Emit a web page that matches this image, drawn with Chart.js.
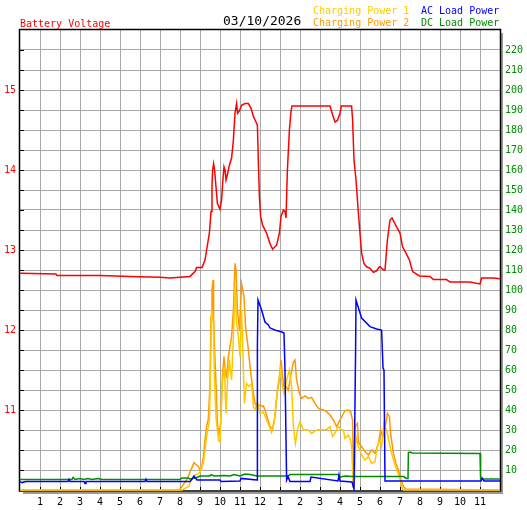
<!DOCTYPE html>
<html>
<head>
<meta charset="utf-8">
<script src="https://cdn.jsdelivr.net/npm/chart.js@4"></script>
<style>
  body { margin: 0; background: #fff; }
  #wrap { position: relative; width: 527px; height: 510px; }
  .lbl { position: absolute; font-family: "DejaVu Sans Mono", monospace; font-size: 10px; line-height: 12px; white-space: pre; }
</style>
</head>
<body>
<div id="wrap">
  <canvas id="chart" width="527" height="510"></canvas>
  <div class="lbl" style="left:20px;top:18px;color:#ff0000">Battery Voltage</div>
  <div class="lbl" style="left:223px;top:13px;font-size:13px;line-height:15px;color:#000">03/10/2026</div>
  <div class="lbl" style="left:313px;top:5px;color:#ffcc00">Charging Power 1</div>
  <div class="lbl" style="left:313px;top:17px;color:#ff9900">Charging Power 2</div>
  <div class="lbl" style="left:421px;top:5px;color:#0000ff">AC Load Power</div>
  <div class="lbl" style="left:421px;top:17px;color:#008c00">DC Load Power</div>
</div>
<script>
// hours of day (0-24) and readings

const hourTicks = [1,2,3,4,5,6,7,8,9,10,11,12,13,14,15,16,17,18,19,20,21,22,23];
const voltTicks = [11, 12, 13, 14, 15];
const powerTicks = [10,20,30,40,50,60,70,80,90,100,110,120,130,140,150,160,170,180,190,200,210,220];

const voltHours = [0, 1.8, 1.85, 4, 5.5, 7, 7.5, 8, 8.5, 8.75, 8.83, 9.1, 9.25, 9.33, 9.47, 9.55, 9.6, 9.63, 9.68, 9.73, 9.8, 9.87, 10, 10.08, 10.13, 10.2, 10.25, 10.3, 10.37, 10.47, 10.58, 10.67, 10.75, 10.83, 10.88, 10.97, 11.08, 11.25, 11.42, 11.55, 11.67, 11.8, 11.87, 11.92, 11.97, 12.03, 12.13, 12.33, 12.5, 12.63, 12.83, 12.97, 13.05, 13.17, 13.25, 13.3, 13.37, 13.47, 13.55, 13.6, 15.5, 15.63, 15.75, 15.87, 16, 16.07, 16.58, 16.63, 16.7, 16.8, 16.92, 17, 17.08, 17.2, 17.33, 17.5, 17.67, 17.83, 17.97, 18, 18.17, 18.25, 18.37, 18.5, 18.6, 18.83, 19, 19.13, 19.3, 19.47, 19.63, 19.97, 20.5, 20.67, 21.33, 21.5, 22.5, 23, 23.08, 23.67, 24];
const voltValues = [12.71, 12.70, 12.68, 12.68, 12.67, 12.66, 12.65, 12.66, 12.67, 12.73, 12.78, 12.78, 12.875, 13.0, 13.21, 13.48, 13.79, 14.0, 14.08, 14.0, 13.79, 13.58, 13.51, 13.625, 13.83, 14.04, 14.0, 13.875, 13.94, 14.06, 14.15, 14.375, 14.71, 14.83, 14.71, 14.74, 14.81, 14.83, 14.83, 14.77, 14.67, 14.6, 14.56, 14.08, 13.67, 13.42, 13.31, 13.21, 13.08, 13.01, 13.06, 13.21, 13.42, 13.5, 13.48, 13.4, 14.0, 14.5, 14.73, 14.8, 14.8, 14.69, 14.6, 14.62, 14.71, 14.8, 14.8, 14.625, 14.125, 13.875, 13.46, 13.21, 12.96, 12.83, 12.79, 12.77, 12.72, 12.74, 12.79, 12.79, 12.75, 12.75, 13.125, 13.375, 13.4, 13.29, 13.21, 13.04, 12.96, 12.875, 12.73, 12.675, 12.67, 12.63, 12.63, 12.6, 12.6, 12.575, 12.65, 12.65, 12.64];

const cp1Hours = [0, 8.1, 8.42, 8.58, 8.75, 8.92, 9, 9.08, 9.17, 9.33, 9.47, 9.53, 9.58, 9.67, 9.72, 9.8, 9.92, 10, 10.07, 10.13, 10.22, 10.3, 10.38, 10.47, 10.58, 10.67, 10.75, 10.83, 10.92, 11, 11.08, 11.17, 11.22, 11.33, 11.45, 11.58, 11.67, 11.75, 11.87, 12, 12.17, 12.33, 12.47, 12.58, 12.7, 12.83, 12.95, 13.03, 13.12, 13.2, 13.33, 13.47, 13.58, 13.67, 13.77, 13.87, 14, 14.17, 14.42, 14.58, 14.83, 15.33, 15.5, 15.63, 15.75, 15.92, 16.08, 16.17, 16.25, 16.42, 16.53, 16.58, 16.67, 16.72, 16.8, 16.92, 17.08, 17.25, 17.42, 17.58, 17.75, 17.87, 18, 18.08, 18.2, 18.33, 18.47, 18.58, 18.7, 18.83, 18.97, 19.08, 19.17, 24];
const cp1Values = [0, 0, 1.7, 5, 7.5, 8.3, 9, 12.5, 13.3, 26.7, 35, 61.7, 90, 83.3, 56.7, 36.7, 25, 24, 43.3, 55, 61.7, 38.3, 55, 65, 55, 76.7, 101.7, 83.3, 76.7, 66.7, 90, 60, 43.3, 53.3, 51.7, 53.3, 41.7, 40, 44, 38.3, 39, 35, 31.7, 28.7, 33.3, 46.7, 53.3, 61.7, 51.7, 48.3, 55, 60, 51.7, 31.7, 23.3, 30, 34.2, 30, 30, 28.3, 30, 30.3, 31.7, 26.7, 28.3, 31.7, 30, 30, 25.8, 27.5, 25, 21.7, 1, 5, 26.7, 21.7, 17.5, 15, 16.7, 13.3, 14.2, 21.7, 25, 21.7, 33.3, 30, 23.3, 18.3, 14.2, 10, 6.7, 1.7, 0, 0];

const cp2Hours = [0, 7.97, 8.33, 8.58, 8.7, 8.83, 8.92, 9, 9.08, 9.17, 9.25, 9.33, 9.42, 9.5, 9.55, 9.6, 9.65, 9.68, 9.73, 9.8, 9.87, 9.95, 10.03, 10.08, 10.13, 10.2, 10.27, 10.33, 10.42, 10.5, 10.58, 10.67, 10.75, 10.8, 10.87, 10.97, 11.08, 11.2, 11.28, 11.42, 11.5, 11.58, 11.67, 11.75, 11.87, 12, 12.13, 12.17, 12.25, 12.33, 12.5, 12.63, 12.75, 12.87, 12.97, 13.05, 13.13, 13.22, 13.3, 13.42, 13.53, 13.67, 13.75, 13.83, 13.97, 14.08, 14.25, 14.42, 14.58, 14.75, 14.92, 15.17, 15.33, 15.5, 15.67, 15.83, 16, 16.13, 16.25, 16.42, 16.53, 16.63, 16.67, 16.75, 16.87, 16.92, 17.08, 17.25, 17.42, 17.58, 17.75, 17.92, 18.03, 18.13, 18.25, 18.37, 18.47, 18.53, 18.67, 18.8, 18.92, 19.03, 19.17, 19.3, 24];
const cp2Values = [0, 0, 5, 10.8, 13.7, 12.5, 11.7, 10, 10.8, 16.7, 25, 31.7, 35.8, 53, 86.7, 100, 105, 86.7, 70, 53, 33, 28, 33, 46.7, 58, 66.7, 58, 56.7, 66.7, 71.7, 76.7, 90, 113.3, 110, 90, 80, 103, 96.7, 81.7, 70, 61.7, 55, 48.3, 43.3, 41.7, 42.5, 41.7, 42, 40, 37.5, 31.7, 30.8, 36.7, 50, 56.7, 65, 56.7, 50, 51.7, 50, 56.7, 64, 65, 55, 48.3, 45.8, 47, 45.8, 46.3, 43.3, 40.8, 40, 39.2, 37.5, 35, 31.7, 35, 37.5, 39.7, 40, 39, 35, 1, 31.7, 33.3, 24, 21.7, 19.2, 17.5, 20, 18.3, 23.3, 30, 26.7, 30.8, 38.3, 36.7, 28.3, 18.3, 13.3, 10, 5.8, 1.7, 0.5, 0];

const acHours = [0, 0.1, 0.3, 2.4, 2.45, 2.5, 3.2, 3.25, 3.3, 6.25, 6.3, 6.35, 8.5, 8.7, 8.85, 10.0, 10.05, 11.0, 11.05, 11.85, 11.87, 11.9, 12.08, 12.25, 12.42, 12.5, 12.83, 13.1, 13.2, 13.25, 13.33, 13.4, 13.5, 14.5, 14.55, 15.9, 15.95, 16.0, 16.6, 16.7, 16.78, 16.8, 17.08, 17.5, 17.83, 18.08, 18.15, 18.2, 18.25, 23.05, 23.1, 23.2, 24];
const acValues = [4.2, 3.7, 4.2, 4.2, 5.3, 4.2, 4.2, 3.3, 4.2, 4.2, 5.3, 4.2, 4.2, 7, 5, 5, 4.2, 4.5, 5.8, 5, 72, 95, 90, 84, 82.5, 81, 79.7, 79, 78.5, 60, 5, 6.7, 4.2, 4.2, 6.5, 4.5, 7.5, 4.5, 4, 0.5, 70, 95, 86, 81.7, 80.5, 80, 61, 60, 4.5, 4.5, 6, 4.5, 4.5];

const dcHours = [0, 2.6, 2.65, 2.75, 3.0, 3.2, 3.4, 3.6, 3.9, 4.1, 8.0, 8.1, 8.4, 8.5, 8.8, 9.0, 9.5, 9.55, 9.7, 10.2, 10.5, 10.7, 11.0, 11.25, 11.5, 11.85, 12.0, 13.4, 13.5, 15.9, 16.0, 16.3, 16.6, 19.2, 19.3, 19.4, 19.42, 19.5, 19.6, 23.0, 23.03, 24];
const dcValues = [5.3, 5.3, 6.3, 5.3, 5.8, 5.3, 5.8, 5.3, 5.8, 5.3, 5.3, 6, 6, 5.5, 6, 7, 7, 7.7, 7, 7.3, 7, 7.7, 7, 8, 7.7, 7, 7, 7, 7.7, 7.7, 6.5, 7, 6.7, 6.7, 5.8, 5.8, 18.7, 19, 18.5, 18.3, 5.5, 5.5];

const pts = (h, v) => h.map((x, i) => ({ x: x, y: v[i] }));
const FONT = { family: "DejaVu Sans Mono", size: 10 };

const frame = {
  id: "frame",
  beforeDraw(chart) {
    const { ctx, chartArea: a } = chart;
    ctx.save();
    ctx.fillStyle = "#fff";
    ctx.fillRect(0, 0, chart.width, chart.height);
    ctx.fillStyle = "#999";
    ctx.fillRect(a.right + 1, a.top + 3, 2, a.bottom - a.top + 1);
    ctx.fillRect(a.left + 3, a.bottom + 2, a.right - a.left, 2);
    ctx.restore();
  },
  beforeDatasetsDraw(chart) {
    const { ctx, chartArea: a, scales } = chart;
    ctx.save();
    ctx.strokeStyle = "#000";
    ctx.lineWidth = 1.5;
    ctx.strokeRect(a.left - 0.5, a.top - 0.5, a.right - a.left + 1, a.bottom - a.top + 1.5);
    ctx.lineWidth = 1;
    ctx.beginPath();
    hourTicks.forEach(h => {
      const x = Math.round(scales.x.getPixelForValue(h)) + 0.5;
      ctx.moveTo(x, a.bottom - 3); ctx.lineTo(x, a.bottom);
    });
    powerTicks.forEach(p => {
      const y = Math.round(scales.yP.getPixelForValue(p)) + 0.5;
      ctx.moveTo(a.left, y); ctx.lineTo(a.left + 4, y);
    });
    ctx.stroke();
    ctx.restore();
  }
};

const line = (label, data, color, axis) => ({
  label, data, borderColor: color, backgroundColor: color, yAxisID: axis,
  borderWidth: 1.5, pointRadius: 0, tension: 0, fill: false,
  clip: { left: 0, top: 0, right: 0, bottom: 1 }
});

new Chart(document.getElementById("chart"), {
  type: "line",
  data: {
    datasets: [
      line("Battery Voltage", pts(voltHours, voltValues), "#ff0000", "yV"),
      line("AC Load Power", pts(acHours, acValues), "#0000ff", "yP"),
      line("DC Load Power", pts(dcHours, dcValues), "#008c00", "yP"),
      line("Charging Power 1", pts(cp1Hours, cp1Values), "#ffc800", "yP"),
      line("Charging Power 2", pts(cp2Hours, cp2Values), "#ff9900", "yP")
    ]
  },
  options: {
    responsive: false,
    animation: false,
    layout: { padding: { top: 30 } },
    plugins: { legend: { display: false }, tooltip: { enabled: false } },
    scales: {
      x: {
        type: "linear", min: 0, max: 24,
        afterBuildTicks: s => { s.ticks = hourTicks.map(v => ({ value: v })); },
        afterFit: s => { s.height = 20; },
        grid: { color: "#a8a8a8", drawTicks: false },
        border: { display: false },
        ticks: {
          color: "#000", font: FONT, padding: 6, maxRotation: 0, autoSkip: false,
          callback: v => (v % 12 === 0 ? 12 : v % 12)
        }
      },
      yV: {
        position: "left", min: 10, max: 15.75,
        afterBuildTicks: s => { s.ticks = voltTicks.map(v => ({ value: v })); },
        afterFit: s => { s.width = 20; },
        grid: { display: false, drawTicks: false },
        border: { display: false },
        ticks: { color: "#ff0000", font: FONT, padding: 4 }
      },
      yP: {
        position: "right", min: 0, max: 230,
        afterBuildTicks: s => { s.ticks = powerTicks.map(v => ({ value: v })); },
        afterFit: s => { s.width = 27; },
        grid: { color: "#a8a8a8", drawTicks: false },
        border: { display: false },
        ticks: { color: "#008c00", font: FONT, padding: 5 }
      }
    }
  },
  plugins: [frame]
});
</script>
</body>
</html>
